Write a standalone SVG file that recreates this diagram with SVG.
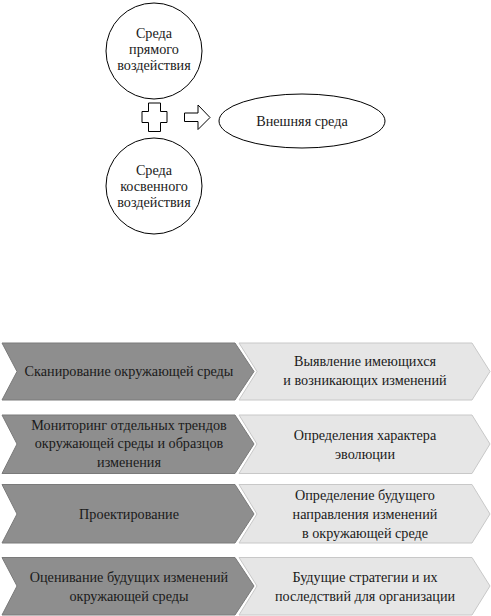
<svg xmlns="http://www.w3.org/2000/svg" width="491" height="616" viewBox="0 0 491 616">
<style>
text{font-family:"Liberation Serif","Times New Roman",serif;font-size:14.2px;fill:#1a1a1a;text-anchor:middle}
.o{fill:#fff;stroke:#000;stroke-width:1}
.d{fill:#8e8e8e;stroke:#7a7a7a;stroke-width:1}
.l{fill:#e6e6e6;stroke:#c8c8c8;stroke-width:1}
</style>
<rect width="491" height="616" fill="#fff"/>
<g id="direct">
<circle class="o" cx="154" cy="51" r="48"/>
<text x="154" y="38">Среда</text>
<text x="154" y="54">прямого</text>
<text x="154" y="70">воздействия</text>
</g>
<g id="indirect">
<circle class="o" cx="154" cy="186" r="48"/>
<text x="154" y="175">Среда</text>
<text x="154" y="191">косвенного</text>
<text x="154" y="207">воздействия</text>
</g>
<g id="external">
<ellipse class="o" cx="302" cy="121" rx="83" ry="27"/>
<text x="302" y="126">Внешняя среда</text>
</g>
<g id="connectors">
<path class="o" d="M148.5,103 h12 v8.5 h6.5 v11 h-6.5 v9 h-12 v-9 h-6.5 v-11 h6.5 z"/>
<path class="o" d="M184.5,113 h13.5 v-8 l12,12.5 l-12,12 v-8 h-13.5 z"/>
</g>
<g id="row1">
<path class="d" d="M2,343 H235 L254,371.5 L235,400 H2 L17,371.5 Z"/>
<path class="l" d="M239,343 H472 L490,371.5 L472,400 H239 L257,371.5 Z"/>
<text x="129" y="376">Сканирование окружающей среды</text>
<text x="365" y="366">Выявление имеющихся</text>
<text x="365" y="385">и возникающих изменений</text>
</g>
<g id="row2">
<path class="d" d="M2,415 H235 L254,444 L235,473.5 H2 L17,444 Z"/>
<path class="l" d="M239,415 H472 L490,444 L472,473.5 H239 L257,444 Z"/>
<text x="129" y="430">Мониторинг отдельных трендов</text>
<text x="129" y="448">окружающей среды и образцов</text>
<text x="129" y="467">изменения</text>
<text x="365" y="440">Определения характера</text>
<text x="365" y="459">эволюции</text>
</g>
<g id="row3">
<path class="d" d="M2,484.5 H235 L254,514 L235,543 H2 L17,514 Z"/>
<path class="l" d="M239,484.5 H472 L490,514 L472,543 H239 L257,514 Z"/>
<text x="129" y="519">Проектирование</text>
<text x="365" y="500">Определение будущего</text>
<text x="365" y="519">направления изменений</text>
<text x="365" y="538">в окружающей среде</text>
</g>
<g id="row4">
<path class="d" d="M2,557.5 H235 L254,586 L235,615 H2 L17,586 Z"/>
<path class="l" d="M239,557.5 H472 L490,586 L472,615 H239 L257,586 Z"/>
<text x="129" y="582">Оценивание будущих изменений</text>
<text x="129" y="601">окружающей среды</text>
<text x="365" y="582">Будущие стратегии и их</text>
<text x="365" y="601">последствий для организации</text>
</g>
</svg>
